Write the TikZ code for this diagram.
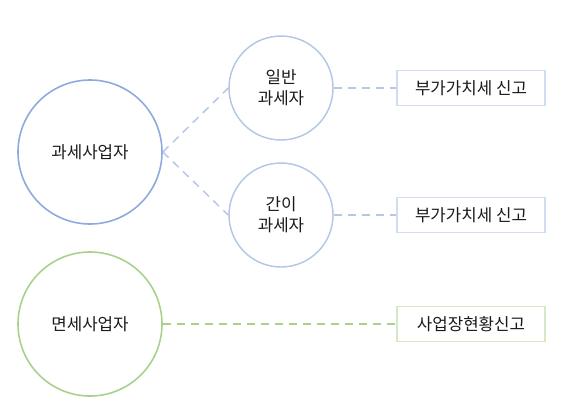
\documentclass[tikz,border=0pt]{standalone}
\usepackage{fontspec}
\setmainfont{Noto Sans CJK KR}
\usepackage{tikz}
\definecolor{bluedark}{HTML}{8FAADC}
\definecolor{bluelight}{HTML}{B4C7E7}
\definecolor{bluebox}{HTML}{D0DCEF}
\definecolor{greenline}{HTML}{A9D18E}
\definecolor{greenbox}{HTML}{D5E8C8}
\definecolor{textgray}{HTML}{1A1A1A}
\tikzset{
  % cerchio grande (tipo di operatore)
  big circle/.style={circle, draw=#1, line width=1.2pt, minimum size=108pt,
    inner sep=0pt, text=textgray, font=\fontsize{12.6}{15}\selectfont},
  % cerchio piccolo (sottotipo)
  small circle/.style={circle, draw=bluelight, line width=1.1pt, minimum size=78pt,
    inner sep=0pt, align=center, text=textgray, font=\fontsize{12.6}{15.8}\selectfont},
  % riquadro della dichiarazione
  report box/.style={rectangle, draw=#1, line width=1pt, minimum width=111pt,
    minimum height=26pt, text=textgray, font=\fontsize{12.6}{15}\selectfont},
  % linea tratteggiata
  link/.style={draw=#1, line width=1.1pt, dash pattern=on 6pt off 4.5pt}
}

\begin{document}
\begin{tikzpicture}[x=0.75pt, y=-0.75pt]
  \useasboundingbox (0,0) rectangle (573,415);

  % operatori
  \node[big circle=bluedark] (gwase) at (90,152) {과세사업자};
  \node[big circle=greenline] (myeonse) at (90,324) {면세사업자};

  \node[small circle] (ilban) at (281,88) {일반\\과세자};
  \node[small circle] (gani) at (281,215) {간이\\과세자};

  % dichiarazioni
  \node[report box=bluebox] (vatA) at (471,88) {부가가치세 신고};
  \node[report box=bluebox] (vatB) at (471,215) {부가가치세 신고};
  \node[report box=greenbox] (status) at (471,324) {사업장현황신고};

  % collegamenti
  \draw[link=bluelight] (gwase.east) -- (ilban.west);
  \draw[link=bluelight] (gwase.east) -- (gani.west);
  \draw[link=bluelight] (ilban.east) -- (vatA.west);
  \draw[link=bluelight] (gani.east) -- (vatB.west);
  \draw[link=greenline] (myeonse.east) -- (status.west);
\end{tikzpicture}
\end{document}
